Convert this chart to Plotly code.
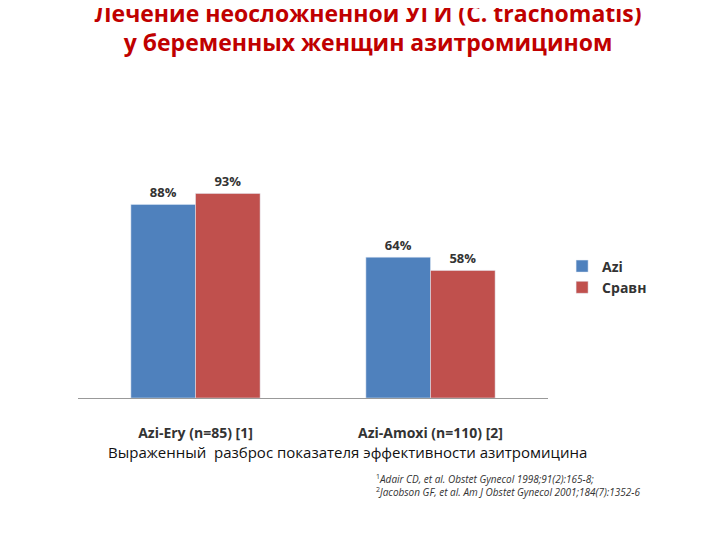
import plotly.graph_objects as go

categories = ["<b>Azi-Ery (n=85) [1]</b>", "<b>Azi-Amoxi (n=110) [2]</b>"]
azi = [88, 64]
sravn = [93, 58]

fig = go.Figure()
fig.add_bar(x=categories, y=azi, name="<b>Azi</b>", marker_color="#4F81BD",
            text=[f"<b>{v}%</b>" for v in azi], textposition="outside", cliponaxis=False,
            textfont=dict(size=13, color="#333"))
fig.add_bar(x=categories, y=sravn, name="<b>Сравн</b>", marker_color="#C0504D",
            text=[f"<b>{v}%</b>" for v in sravn], textposition="outside", cliponaxis=False,
            textfont=dict(size=13, color="#333"))

fig.update_layout(
    width=720, height=540,
    barmode="group", bargap=0.45, bargroupgap=0,
    paper_bgcolor="white", plot_bgcolor="white",
    font=dict(family="Open Sans", color="#333"),
    title=dict(text="<b>Лечение неосложнённой УГИ (C. trachomatis)<br>у беременных женщин азитромицином</b>",
               x=0.5, y=0.975, yanchor="top", xanchor="center",
               font=dict(size=23, color="#C00000", family="Open Sans")),
    margin=dict(l=70, r=180, t=170, b=150),
    legend=dict(x=1.03, y=0.55, font=dict(size=14, color="#333"),
                itemwidth=30, tracegroupgap=8),
    xaxis=dict(showline=True, linecolor="#999", ticks="outside", tickcolor="white",
               tickfont=dict(size=14), ticklen=22),
    yaxis=dict(range=[0, 100], visible=False),
    annotations=[
        dict(text="Выраженный  разброс показателя эффективности азитромицина",
             xref="paper", yref="paper", x=0.06, y=-0.3, xanchor="left",
             showarrow=False, font=dict(size=15, color="#111")),
        dict(text="<sup>1</sup><i>Adair CD, et al. Obstet Gynecol 1998;91(2):165-8;</i><br>"
                  "<sup>2</sup><i>Jacobson GF, et al. Am J Obstet Gynecol 2001;184(7):1352-6</i>",
             xref="paper", yref="paper", x=0.63, y=-0.47, xanchor="left", align="left",
             showarrow=False, font=dict(size=10, color="#333")),
    ],
)
fig.write_html("out.html")
